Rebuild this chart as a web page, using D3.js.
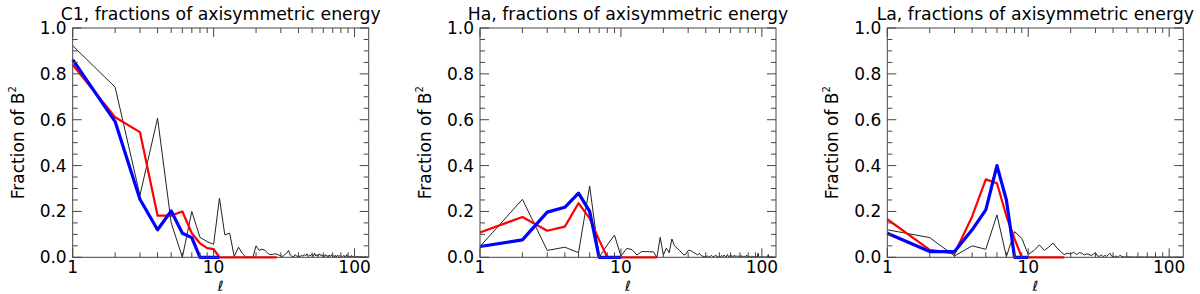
<!DOCTYPE html>
<html>
<head>
<meta charset="utf-8">
<script src="https://cdn.jsdelivr.net/npm/d3@7"></script>
<style>
  body { margin: 0; background: #fff; }
  text { font-family: "DejaVu Sans", sans-serif; fill: #000; }
</style>
</head>
<body>
<svg id="chart" width="1200" height="294"></svg>
<script>
// panel titles
const titles = ['C1, fractions of axisymmetric energy',
                'Ha, fractions of axisymmetric energy',
                'La, fractions of axisymmetric energy'];

// thin black curves, degree l = 1, 2, 3 ...
const c1Black = [0.923, 0.742, 0.27, 0.607, 0.15, 0.0, 0.20, 0.087, 0.068, 0.057,
  0.258, 0.098, 0.105, 0.003, 0.044, 0.017, 0.0, 0.0, 0.0, 0.05,
  0.03, 0.035, 0.032, 0.02, 0.012, 0.012, 0.015, 0.014, 0.010, 0.006,
  0.004, 0.012, 0.018, 0.030, 0.010, 0.004, 0.002, 0.012, 0.003, 0.008,
  0.002, 0.010, 0.004, 0.012, 0.006, 0.015, 0.003, 0.010, 0.008, 0.014,
  0.004, 0.018, 0.006, 0.012, 0.003, 0.015, 0.009, 0.012, 0.004, 0.010,
  0.002, 0.012, 0.005, 0.008, 0.001, 0.010, 0.004, 0.006, 0.012, 0.002,
  0.007, 0.003, 0.009, 0.001, 0.006, 0.010, 0.002, 0.005, 0.008, 0.003,
  0.006, 0.002, 0.004, 0.009, 0.001, 0.005, 0.003, 0.012, 0.002, 0.004,
  0.001, 0.006, 0.003, 0.002, 0.008, 0.001, 0.004, 0.002, 0.003, 0.006,
  0.002, 0.001, 0.004, 0.002, 0.003, 0.001, 0.005, 0.002, 0.001, 0.003,
  0.002, 0.004, 0.001, 0.002, 0.003, 0.001, 0.002, 0.004, 0.001, 0.002,
  0.003, 0.001, 0.002, 0.001, 0.003];
const haBlack = [0.047, 0.253, 0.03, 0.044, 0.02, 0.311, 0.0, 0.054, 0.097, 0.005,
  0.039, 0.033, 0.01, 0.025, 0.025, 0.024, 0.024, 0.0, 0.087, 0.01,
  0.04, 0.02, 0.08, 0.05, 0.04, 0.03, 0.02, 0.01, 0.015, 0.03,
  0.03, 0.025, 0.02, 0.015, 0.01, 0.018, 0.008, 0.005, 0.003, 0.002,
  0.006, 0.001, 0.004, 0.008, 0.002, 0.003, 0.010, 0.002, 0.001, 0.006,
  0.003, 0.008, 0.002, 0.010, 0.004, 0.002, 0.012, 0.003, 0.006, 0.001,
  0.008, 0.002, 0.004, 0.010, 0.001, 0.005, 0.002, 0.007, 0.003, 0.001,
  0.009, 0.002, 0.004, 0.001, 0.006, 0.002, 0.003, 0.010, 0.001, 0.004,
  0.002, 0.005, 0.001, 0.003, 0.002, 0.006, 0.001, 0.003, 0.002, 0.001,
  0.004, 0.002, 0.001, 0.018, 0.002, 0.001, 0.003, 0.002, 0.001, 0.004,
  0.001, 0.002, 0.003, 0.001, 0.002, 0.001, 0.004, 0.002, 0.001, 0.002,
  0.012, 0.001, 0.002, 0.001, 0.003, 0.001, 0.002, 0.001, 0.002, 0.003,
  0.001, 0.002, 0.001, 0.002, 0.001];
const laBlack = [0.12, 0.086, 0.006, 0.05, 0.035, 0.185, 0.003, 0.112, 0.083, 0.012,
  0.03, 0.054, 0.03, 0.045, 0.062, 0.04, 0.025, 0.012, 0.018, 0.015,
  0.022, 0.012, 0.02, 0.018, 0.01, 0.015, 0.012, 0.008, 0.014, 0.02,
  0.006, 0.004, 0.01, 0.003, 0.008, 0.004, 0.012, 0.018, 0.006, 0.003,
  0.002, 0.006, 0.001, 0.004, 0.010, 0.002, 0.003, 0.001, 0.002, 0.004,
  0.001, 0.002, 0.001, 0.003, 0.001, 0.002, 0.001, 0.001, 0.002, 0.001,
  0.001, 0.002, 0.001, 0.001, 0.003, 0.001, 0.001, 0.002, 0.001, 0.001,
  0.002, 0.001, 0.001, 0.001, 0.002, 0.001, 0.001, 0.002, 0.001, 0.001,
  0.001, 0.002, 0.001, 0.001, 0.001, 0.002, 0.001, 0.001, 0.001, 0.001,
  0.002, 0.001, 0.001, 0.001, 0.001, 0.002, 0.001, 0.001, 0.001, 0.001,
  0.001, 0.002, 0.001, 0.001, 0.001, 0.001, 0.001, 0.002, 0.001, 0.001,
  0.001, 0.001, 0.001, 0.001, 0.002, 0.001, 0.001, 0.001, 0.001, 0.001,
  0.001, 0.001, 0.001, 0.001, 0.001];

// red curves
const c1Red = [0.84, 0.611, 0.546, 0.182, 0.182, 0.20, 0.105, 0.061, 0.04, 0.036,
  0.0, 0.0, 0.0, 0.0, 0.0, 0.0, 0.0, 0.0, 0.0, 0.0,
  0.0, 0.0, 0.0, 0.0, 0.0, 0.0, 0.0, 0.0];
const haRed = [0.108, 0.176, 0.116, 0.134, 0.236, 0.17, 0.076, 0.0, 0.0, 0.0,
  0.0, 0.0, 0.0, 0.0, 0.0, 0.0, 0.0, 0.0];
const laRed = [0.166, 0.032, 0.017, 0.178, 0.34, 0.323, 0.18, 0.08, 0.0, 0.0,
  0.0, 0.0, 0.0, 0.0, 0.0, 0.0, 0.0, 0.0];

// blue curves
const c1Blue = [0.862, 0.592, 0.253, 0.12, 0.202, 0.105, 0.086, 0.0, 0.0, 0.0, 0.0];
const haBlue = [0.047, 0.076, 0.197, 0.218, 0.28, 0.2, 0.0, 0.0, 0.0, 0.0];
const laBlue = [0.105, 0.025, 0.025, 0.12, 0.207, 0.40, 0.25, 0.0, 0.0, 0.0];

const yTicks = [0, 0.2, 0.4, 0.6, 0.8, 1.0];
const xTicks = [1, 10, 100];

const panels = [
  { title: titles[0], left: 72.7, black: c1Black, red: c1Red, blue: c1Blue },
  { title: titles[1], left: 480, black: haBlack, red: haRed, blue: haBlue },
  { title: titles[2], left: 887.3, black: laBlack, red: laRed, blue: laBlue }
];

const plotW = 296;
const plotTop = 28;
const plotBottom = 257.3;
const axisColor = '#444';

const svg = d3.select('#chart');

panels.forEach(p => {
  const x = d3.scaleLog().domain([1, 126]).range([p.left, p.left + plotW]);
  const y = d3.scaleLinear().domain([0, 1]).range([plotBottom, plotTop]);

  const g = svg.append('g');

  const toPts = arr => arr.map((v, i) => [i + 1, v]);
  const line = d3.line().x(d => x(d[0])).y(d => y(d[1]));

  g.append('path').datum(toPts(p.black))
    .attr('d', line).attr('fill', 'none')
    .attr('stroke', '#222').attr('stroke-width', 1);
  g.append('path').datum(toPts(p.red))
    .attr('d', line).attr('fill', 'none')
    .attr('stroke', '#ff0000').attr('stroke-width', 2.2)
    .attr('stroke-linejoin', 'round');
  g.append('path').datum(toPts(p.blue))
    .attr('d', line).attr('fill', 'none')
    .attr('stroke', '#0000ff').attr('stroke-width', 3.2)
    .attr('stroke-linejoin', 'round');

  // frame
  g.append('rect')
    .attr('x', p.left).attr('y', plotTop)
    .attr('width', plotW).attr('height', plotBottom - plotTop)
    .attr('fill', 'none').attr('stroke', axisColor).attr('stroke-width', 1);

  // y ticks, inward on both sides
  const yMinor = d3.range(0, 1.0001, 0.05);
  yMinor.forEach(v => {
    const major = Math.abs(v * 5 - Math.round(v * 5)) < 1e-6;
    const len = major ? 9 : 5;
    g.append('line').attr('x1', p.left).attr('x2', p.left + len)
      .attr('y1', y(v)).attr('y2', y(v)).attr('stroke', axisColor);
    g.append('line').attr('x1', p.left + plotW).attr('x2', p.left + plotW - len)
      .attr('y1', y(v)).attr('y2', y(v)).attr('stroke', axisColor);
  });

  // x ticks (log), inward on bottom and top
  const xAll = x.ticks();
  xAll.forEach(v => {
    if (v > 126) return;
    const major = xTicks.includes(v);
    const len = major ? 9 : 5;
    g.append('line').attr('x1', x(v)).attr('x2', x(v))
      .attr('y1', plotBottom).attr('y2', plotBottom - len).attr('stroke', axisColor);
    g.append('line').attr('x1', x(v)).attr('x2', x(v))
      .attr('y1', plotTop).attr('y2', plotTop + len).attr('stroke', axisColor);
  });

  g.selectAll('.ylab').data(yTicks).enter().append('text')
    .attr('x', p.left - 6).attr('y', d => y(d))
    .attr('dy', '0.35em').attr('text-anchor', 'end')
    .attr('font-size', 17).text(d => d.toFixed(1));

  g.selectAll('.xlab').data(xTicks).enter().append('text')
    .attr('x', d => x(d)).attr('y', 273)
    .attr('text-anchor', 'middle')
    .attr('font-size', 17).text(d => d);

  g.append('text')
    .attr('x', p.left + plotW / 2).attr('y', 290.5)
    .attr('text-anchor', 'middle').attr('font-size', 14)
    .attr('font-style', 'italic').text('ℓ');

  g.append('text')
    .attr('x', p.left + plotW / 2).attr('y', 20)
    .attr('text-anchor', 'middle').attr('font-size', 17.3)
    .text(p.title);

  const yl = g.append('text')
    .attr('transform', `translate(${p.left - 49},${(plotTop + plotBottom) / 2}) rotate(-90)`)
    .attr('text-anchor', 'middle').attr('font-size', 17);
  yl.append('tspan').text('Fraction of B');
  yl.append('tspan').attr('font-size', 10).attr('dy', -8).text('2');
});
</script>
</body>
</html>
